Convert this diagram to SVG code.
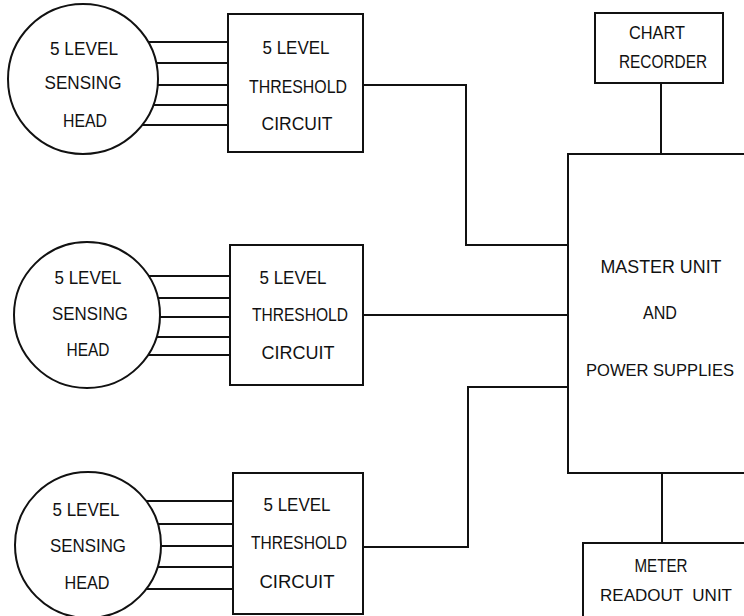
<svg xmlns="http://www.w3.org/2000/svg" width="744" height="616" viewBox="0 0 744 616">
<style>
.s{fill:none;stroke:#111;stroke-width:2}
.b{fill:#fff;stroke:#111;stroke-width:2}
text{font-family:"Liberation Sans",Arial,sans-serif;font-size:19px;fill:#111;text-anchor:middle}
text.n{font-size:17px}
</style>
<rect width="744" height="616" fill="#fff"/>
<g id="connectors" class="s">
<path d="M148 42H228M156 63H228M158 85H228M153 105H228M142 125H228"/>
<path d="M149 276H230M158 298H230M160 317H230M157 337H230M148 355H230"/>
<path d="M146 501H233M158 524H233M161 546H233M158 567H233M146 589H233"/>
<path d="M363 85H466V245H568"/>
<path d="M363 315H568"/>
<path d="M363 547H468V387H568"/>
<path d="M661 83V154"/>
<path d="M662 473V543"/>
</g>
<g id="head1"><circle class="b" cx="83" cy="79" r="75"/><text x="84" y="55" textLength="68" lengthAdjust="spacingAndGlyphs">5 LEVEL</text><text x="83" y="89" textLength="77" lengthAdjust="spacingAndGlyphs">SENSING</text><text x="85" y="127" textLength="44" lengthAdjust="spacingAndGlyphs">HEAD</text></g>
<g id="thr1"><rect class="b" x="228" y="14" width="135" height="138"/><text x="296" y="54" textLength="67" lengthAdjust="spacingAndGlyphs">5 LEVEL</text><text x="298" y="93" textLength="98" lengthAdjust="spacingAndGlyphs">THRESHOLD</text><text x="297" y="130" textLength="71" lengthAdjust="spacingAndGlyphs">CIRCUIT</text></g>
<g id="head2"><circle class="b" cx="87" cy="315" r="73"/><text x="88" y="284" textLength="67" lengthAdjust="spacingAndGlyphs">5 LEVEL</text><text x="90" y="320" textLength="76" lengthAdjust="spacingAndGlyphs">SENSING</text><text x="88" y="356" textLength="43" lengthAdjust="spacingAndGlyphs">HEAD</text></g>
<g id="thr2"><rect class="b" x="230" y="245" width="133" height="140"/><text x="293" y="284" textLength="67" lengthAdjust="spacingAndGlyphs">5 LEVEL</text><text x="300" y="321" textLength="96" lengthAdjust="spacingAndGlyphs">THRESHOLD</text><text x="298" y="359" textLength="73" lengthAdjust="spacingAndGlyphs">CIRCUIT</text></g>
<g id="head3"><circle class="b" cx="88" cy="545" r="73"/><text x="86" y="516" textLength="67" lengthAdjust="spacingAndGlyphs">5 LEVEL</text><text x="88" y="552" textLength="76" lengthAdjust="spacingAndGlyphs">SENSING</text><text x="87" y="589" textLength="45" lengthAdjust="spacingAndGlyphs">HEAD</text></g>
<g id="thr3"><rect class="b" x="233" y="473" width="130" height="141"/><text x="297" y="511" textLength="67" lengthAdjust="spacingAndGlyphs">5 LEVEL</text><text x="299" y="549" textLength="96" lengthAdjust="spacingAndGlyphs">THRESHOLD</text><text x="297" y="588" textLength="75" lengthAdjust="spacingAndGlyphs">CIRCUIT</text></g>
<g id="chart"><rect class="b" x="595" y="13" width="128" height="70"/><text x="657" y="39" textLength="56" lengthAdjust="spacingAndGlyphs">CHART</text><text x="663" y="68" textLength="88" lengthAdjust="spacingAndGlyphs">RECORDER</text></g>
<g id="master"><rect class="b" x="568" y="154" width="200" height="319"/><text x="661" y="273" textLength="121" lengthAdjust="spacingAndGlyphs">MASTER UNIT</text><text x="660" y="319" textLength="34" lengthAdjust="spacingAndGlyphs">AND</text><text class="n" x="660" y="376" textLength="148" lengthAdjust="spacingAndGlyphs">POWER SUPPLIES</text></g>
<g id="meter"><rect class="b" x="583" y="543" width="180" height="90"/><text x="661" y="572" textLength="53" lengthAdjust="spacingAndGlyphs">METER</text><text class="n" x="666" y="601" textLength="132" lengthAdjust="spacingAndGlyphs" xml:space="preserve">READOUT  UNIT</text></g>
</svg>
